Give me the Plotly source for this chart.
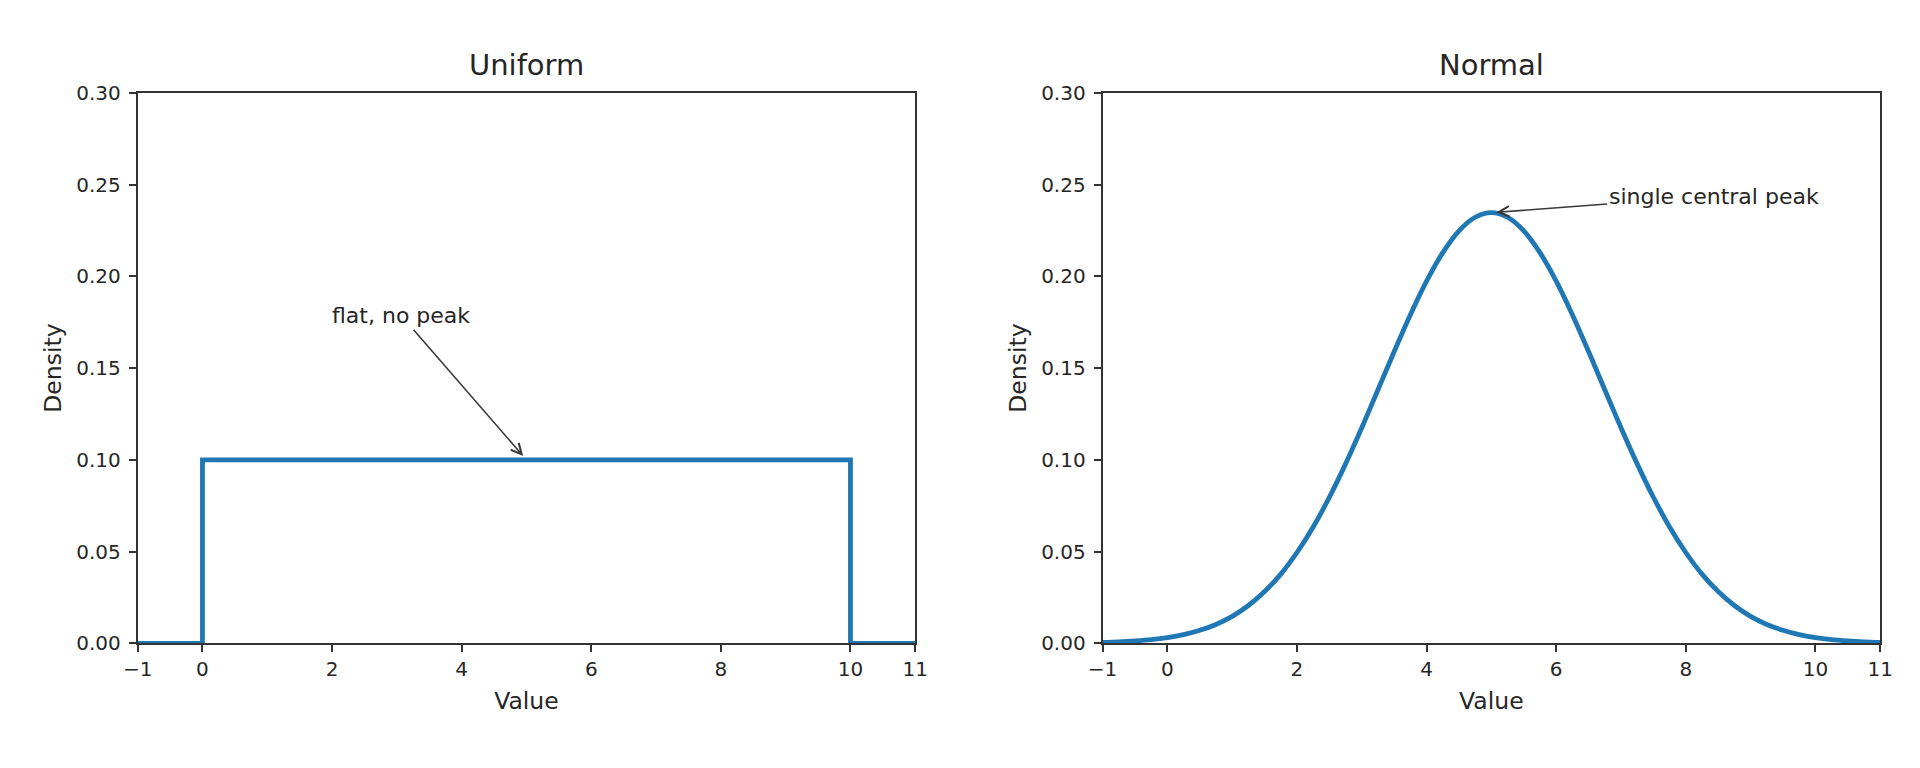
import plotly.graph_objects as go

# ---- data ----
uniform_x = [-1, 0, 0, 10, 10, 11]
uniform_y = [0.0, 0.0, 0.1, 0.1, 0.0, 0.0]

normal_x = [-1, -0.75, -0.5, -0.25, 0, 0.25, 0.5, 0.75, 1, 1.25, 1.5, 1.75,
            2, 2.25, 2.5, 2.75, 3, 3.25, 3.5, 3.75, 4, 4.25, 4.5, 4.75, 5,
            5.25, 5.5, 5.75, 6, 6.25, 6.5, 6.75, 7, 7.25, 7.5, 7.75, 8,
            8.25, 8.5, 8.75, 9, 9.25, 9.5, 9.75, 10, 10.25, 10.5, 10.75, 11]
normal_y = [0.0005, 0.0008, 0.0013, 0.0020, 0.0031, 0.0047, 0.0071, 0.0103,
            0.0147, 0.0206, 0.0282, 0.0377, 0.0495, 0.0634, 0.0796, 0.0978,
            0.1175, 0.1382, 0.1590, 0.1791, 0.1974, 0.2129, 0.2248, 0.2322,
            0.2347,
            0.2322, 0.2248, 0.2129, 0.1974, 0.1791, 0.1590, 0.1382, 0.1175,
            0.0978, 0.0796, 0.0634, 0.0495, 0.0377, 0.0282, 0.0206, 0.0147,
            0.0103, 0.0071, 0.0047, 0.0031, 0.0020, 0.0013, 0.0008, 0.0005]

x_tick_vals = [-1, 0, 2, 4, 6, 8, 10, 11]
x_tick_text = ["\u22121", "0", "2", "4", "6", "8", "10", "11"]
y_tick_vals = [0.0, 0.05, 0.10, 0.15, 0.20, 0.25, 0.30]

titles = ["Uniform", "Normal"]
notes = ["flat, no peak", "single central peak"]
note_head = [(5, 0.1), (5, 0.2347)]
note_tail = [(3.07, 0.1785), (8.43, 0.2437)]

FONT = "DejaVu Sans"
TXT = "#262626"
AX = "#333333"
BLUE = "#1f77b4"

fig = go.Figure()
fig.add_trace(go.Scatter(x=uniform_x, y=uniform_y, mode="lines",
                         line=dict(color=BLUE, width=4.8), xaxis="x", yaxis="y",
                         showlegend=False, hoverinfo="skip"))
fig.add_trace(go.Scatter(x=normal_x, y=normal_y, mode="lines",
                         line=dict(color=BLUE, width=4.8, shape="spline", smoothing=0.8),
                         xaxis="x2", yaxis="y2", showlegend=False, hoverinfo="skip"))

xdom = [[0.0606, 0.4716], [0.5706, 0.9816]]
ydom = [0.1622, 0.9021]

def xax(dom, anchor):
    return dict(domain=dom, anchor=anchor, range=[-1, 11], tickmode="array",
                tickvals=x_tick_vals, ticktext=x_tick_text, ticks="outside",
                ticklen=7, tickwidth=1.8, tickcolor=AX, showline=True,
                linecolor=AX, linewidth=1.8, mirror=True, showgrid=False,
                zeroline=False, tickfont=dict(family=FONT, size=20, color=TXT),
                title=dict(text="Value", font=dict(family=FONT, size=23.5, color=TXT),
                           standoff=12))

def yax(anchor):
    return dict(domain=ydom, anchor=anchor, range=[0, 0.3], tickmode="array",
                tickvals=y_tick_vals, tickformat=".2f", ticks="outside",
                ticklen=7, tickwidth=1.8, tickcolor=AX, showline=True,
                linecolor=AX, linewidth=1.8, mirror=True, showgrid=False,
                zeroline=False, ticklabelstandoff=4,
                tickfont=dict(family=FONT, size=20, color=TXT),
                title=dict(text="Density", font=dict(family=FONT, size=23.5, color=TXT),
                           standoff=8))

annotations = []
for i in range(2):
    xc = (xdom[i][0] + xdom[i][1]) / 2
    annotations.append(dict(text=titles[i], x=xc, y=0.9136, xref="paper",
                            yref="paper", xanchor="center", yanchor="bottom",
                            showarrow=False,
                            font=dict(family=FONT, size=29, color=TXT)))
    xr = "x" if i == 0 else "x2"
    yr = "y" if i == 0 else "y2"
    annotations.append(dict(text=notes[i], x=note_head[i][0], y=note_head[i][1],
                            xref=xr, yref=yr, ax=note_tail[i][0], ay=note_tail[i][1],
                            axref=xr, ayref=yr, showarrow=True, arrowhead=5,
                            arrowsize=1.3, arrowwidth=1.6, arrowcolor="#3a3a3a",
                            standoff=5, xanchor="center", yanchor="middle",
                            font=dict(family=FONT, size=22, color=TXT)))

fig.update_layout(
    width=1920, height=768, margin=dict(l=0, r=0, t=0, b=0),
    paper_bgcolor="white", plot_bgcolor="white",
    xaxis=xax(xdom[0], "y"), yaxis=yax("x"),
    xaxis2=xax(xdom[1], "y2"), yaxis2=yax("x2"),
    annotations=annotations, showlegend=False,
)

fig.write_html("out.html")
